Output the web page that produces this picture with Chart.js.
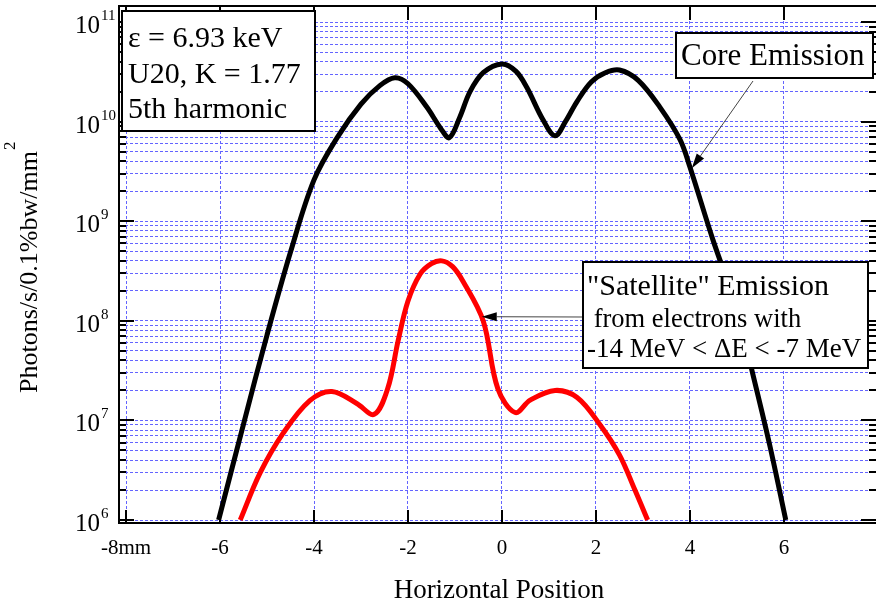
<!DOCTYPE html>
<html>
<head>
<meta charset="utf-8">
<script src="https://cdn.jsdelivr.net/npm/chart.js@4/dist/chart.umd.min.js"></script>
<style>
  html, body { margin: 0; padding: 0; background: #fff; }
  #grafica { display: block; }
</style>
</head>
<body>
<canvas id="grafica" width="876" height="601"></canvas>
<script>
// Emision del nucleo (curva negra)
const coreX = [-6.03, -5.5, -5.0, -4.5, -4.0, -3.5, -3.0, -2.6, -2.28, -2.0, -1.6, -1.3, -1.12, -0.9, -0.68, -0.4, 0, 0.3, 0.53, 0.87, 1.13, 1.35, 1.6, 1.9, 2.2, 2.5, 2.9, 3.36, 3.79, 4.0, 4.49, 5.0, 5.34, 5.7, 6.04];
const coreY = [1.0e6, 9.2e6, 7.2e7, 4.9e8, 2.6e9, 7.0e9, 1.5e10, 2.3e10, 2.76e10, 2.4e10, 1.4e10, 8.5e9, 6.9e9, 1.1e10, 2.0e10, 3.1e10, 3.8e10, 3.2e10, 2.2e10, 1.05e10, 7.2e9, 1.0e10, 1.6e10, 2.5e10, 3.1e10, 3.3e10, 2.6e10, 1.4e10, 6.6e9, 3.5e9, 6.5e8, 1.3e8, 2.9e7, 5.6e6, 1.0e6];

// Emision "satelite" (curva roja)
const satX = [-5.57, -5.15, -4.66, -4.09, -3.62, -3.09, -2.72, -2.43, -2.21, -2.0, -1.74, -1.5, -1.28, -1.05, -0.83, -0.4, -0.09, 0.28, 0.6, 1.13, 1.6, 2.09, 2.5, 2.83, 3.1];
const satY = [1.0e6, 2.95e6, 7.4e6, 1.58e7, 1.95e7, 1.48e7, 1.15e7, 2.1e7, 6.3e7, 1.58e8, 2.95e8, 3.75e8, 4.0e8, 3.5e8, 2.5e8, 1.0e8, 2.1e7, 1.2e7, 1.6e7, 2.0e7, 1.7e7, 9.0e6, 4.5e6, 2.0e6, 1.0e6];

// ejes
const xTicks = [-8, -6, -4, -2, 0, 2, 4, 6];
const yDecades = [6, 7, 8, 9, 10, 11];
const yMinor = [2, 3, 4, 5, 6, 7, 8, 9];

// textos
const infoLines = ['ε = 6.93 keV', 'U20, K = 1.77', '5th harmonic'];
const coreLabel = 'Core Emission';
const satLines = ['"Satellite" Emission', ' from electrons with', '-14 MeV < ΔE < -7 MeV'];
const coreArrowAt = [4.04, 3.4e9];
const satArrowAt = [-0.43, 1.1e8];

const FUENTE = '"Liberation Serif", "Times New Roman", serif';
const AZUL = 'rgb(100,100,255)';

const yTickValues = [];
yDecades.forEach(e => {
    yTickValues.push(Math.pow(10, e));
    if (e < 11) yMinor.forEach(m => yTickValues.push(m * Math.pow(10, e)));
});

const esDecada = v => Math.abs(Math.log10(v) - Math.round(Math.log10(v))) < 1e-9;

function flecha(ctx, x1, y1, x2, y2) {
    const ang = Math.atan2(y2 - y1, x2 - x1);
    const largo = 15, ancho = 4.5;
    const bx = x2 - largo * Math.cos(ang), by = y2 - largo * Math.sin(ang);
    ctx.strokeStyle = '#444';
    ctx.lineWidth = 1;
    ctx.beginPath();
    ctx.moveTo(x1, y1);
    ctx.lineTo(bx, by);
    ctx.stroke();
    ctx.fillStyle = '#000';
    ctx.beginPath();
    ctx.moveTo(x2, y2);
    ctx.lineTo(bx - ancho * Math.sin(ang), by + ancho * Math.cos(ang));
    ctx.lineTo(bx + ancho * Math.sin(ang), by - ancho * Math.cos(ang));
    ctx.closePath();
    ctx.fill();
}

function caja(ctx, x, y, w, h) {
    ctx.fillStyle = '#fff';
    ctx.fillRect(x, y, w, h);
    ctx.strokeStyle = '#000';
    ctx.lineWidth = 2;
    ctx.strokeRect(x, y, w, h);
}

// marco, marcas internas, etiquetas y cajas de texto
const marcoPlugin = {
    id: 'marco',
    afterDatasetsDraw(chart) {
        const { ctx, chartArea: a, scales: { x, y } } = chart;
        ctx.save();

        // linea superior del marco
        ctx.strokeStyle = '#000';
        ctx.lineWidth = 2;
        ctx.beginPath();
        ctx.moveTo(a.left, a.top);
        ctx.lineTo(a.right, a.top);
        ctx.stroke();

        // marcas del eje y (izquierda y derecha, hacia adentro)
        y.ticks.forEach(t => {
            const py = Math.round(y.getPixelForValue(t.value));
            const len = esDecada(t.value) ? 15 : 7;
            ctx.beginPath();
            ctx.moveTo(a.left, py);
            ctx.lineTo(a.left + len, py);
            ctx.moveTo(a.right, py);
            ctx.lineTo(a.right - len, py);
            ctx.stroke();
        });

        // marcas del eje x (abajo y arriba)
        x.ticks.forEach(t => {
            const px = Math.round(x.getPixelForValue(t.value));
            ctx.beginPath();
            ctx.moveTo(px, a.bottom);
            ctx.lineTo(px, a.bottom - 13);
            ctx.moveTo(px, a.top);
            ctx.lineTo(px, a.top + 14);
            ctx.stroke();
        });

        // etiquetas del eje y: 10 con exponente
        ctx.fillStyle = '#000';
        yDecades.forEach(e => {
            const py = y.getPixelForValue(Math.pow(10, e));
            ctx.font = '25px ' + FUENTE;
            ctx.textAlign = 'right';
            ctx.textBaseline = 'alphabetic';
            ctx.fillText('10', 100, py + 11);
            ctx.font = '15px ' + FUENTE;
            ctx.textAlign = 'left';
            ctx.fillText(String(e), 101, py - 2);
        });

        // titulo eje y
        ctx.save();
        ctx.translate(37, 393);
        ctx.rotate(-Math.PI / 2);
        ctx.font = '26px ' + FUENTE;
        ctx.textAlign = 'left';
        const tituloY = 'Photons/s/0.1%bw/mm';
        ctx.fillText(tituloY, 0, 0);
        const w = ctx.measureText(tituloY).width;
        ctx.font = '17px ' + FUENTE;
        ctx.fillText('2', w + 1, -22);
        ctx.restore();

        // titulo eje x
        ctx.font = '27px ' + FUENTE;
        ctx.textAlign = 'center';
        ctx.fillText('Horizontal Position', 499, 598);

        // flechas
        flecha(ctx, 753, 81, x.getPixelForValue(coreArrowAt[0]), y.getPixelForValue(coreArrowAt[1]));
        flecha(ctx, 583, 317, x.getPixelForValue(satArrowAt[0]), y.getPixelForValue(satArrowAt[1]));

        // caja de parametros
        caja(ctx, 122, 11, 193, 120);
        ctx.fillStyle = '#000';
        ctx.textAlign = 'left';
        ctx.font = '30px ' + FUENTE;
        infoLines.forEach((t, i) => ctx.fillText(t, 128, 47 + i * 35.5));

        // caja "Core Emission"
        caja(ctx, 676, 33, 197, 45);
        ctx.fillStyle = '#000';
        ctx.font = '31px ' + FUENTE;
        ctx.fillText(coreLabel, 681, 65);

        // caja "Satellite"
        caja(ctx, 583, 262, 285, 106);
        ctx.fillStyle = '#000';
        ctx.font = '30px ' + FUENTE;
        ctx.fillText(satLines[0], 587, 295);
        ctx.font = '26.5px ' + FUENTE;
        ctx.fillText(satLines[1], 587, 327);
        ctx.font = '27px ' + FUENTE;
        ctx.fillText(satLines[2], 587, 357);

        ctx.restore();
    }
};

const ctx = document.getElementById('grafica').getContext('2d');

window.miGrafica = new Chart(ctx, {
    type: 'line',
    data: {
        datasets: [
            {
                label: 'Core Emission',
                data: coreX.map((v, i) => ({ x: v, y: coreY[i] })),
                borderColor: '#000',
                borderWidth: 5,
                pointRadius: 0,
                fill: false,
                tension: 0.35
            },
            {
                label: 'Satellite Emission',
                data: satX.map((v, i) => ({ x: v, y: satY[i] })),
                borderColor: '#ff0000',
                borderWidth: 5,
                pointRadius: 0,
                fill: false,
                tension: 0.35
            }
        ]
    },
    options: {
        responsive: false,
        animation: false,
        devicePixelRatio: 1,
        layout: { padding: { top: 6, right: 0, left: 0, bottom: 0 } },
        plugins: {
            legend: { display: false },
            tooltip: { enabled: false }
        },
        scales: {
            x: {
                type: 'linear',
                min: -8.15,
                max: 7.96,
                afterBuildTicks: s => { s.ticks = xTicks.map(v => ({ value: v })); },
                afterFit: s => { s.height = 78; },
                ticks: {
                    padding: 13,
                    color: '#000',
                    font: { family: FUENTE, size: 21 },
                    callback: v => (v === -8 ? '-8mm' : String(v)),
                    maxRotation: 0
                },
                grid: { color: AZUL, lineWidth: 1, drawTicks: false },
                border: { display: true, color: '#000', width: 2, dash: [3, 2] }
            },
            y: {
                type: 'logarithmic',
                min: 9.33e5,
                max: 1.449e11,
                afterBuildTicks: s => { s.ticks = yTickValues.map(v => ({ value: v })); },
                afterFit: s => { s.width = 119; },
                ticks: { display: false },
                grid: { color: AZUL, lineWidth: 1, drawTicks: false },
                border: { display: true, color: '#000', width: 2, dash: [3, 2] }
            }
        }
    },
    plugins: [marcoPlugin]
});
</script>
</body>
</html>
